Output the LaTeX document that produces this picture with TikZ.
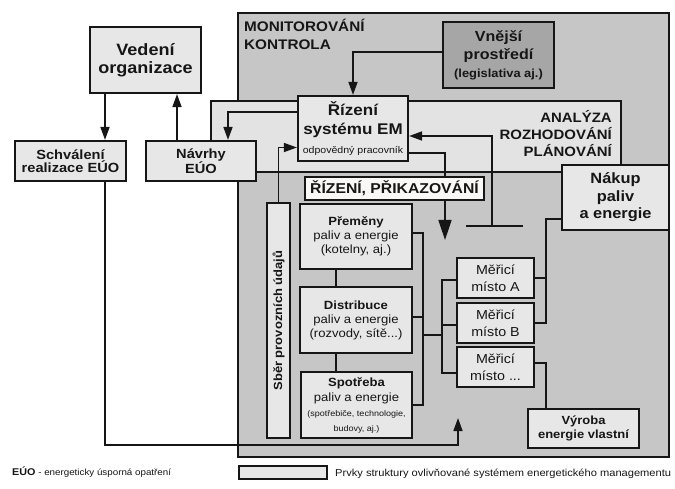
\documentclass[tikz,border=0pt]{standalone}
\usepackage{fontspec}
\setmainfont[FakeStretch=1.1]{Liberation Sans}
\usetikzlibrary{arrows.meta}
\definecolor{outergray}{RGB}{198,198,198}
\definecolor{midgray}{RGB}{227,227,227}
\definecolor{boxgray}{RGB}{231,231,231}
\definecolor{darkbox}{RGB}{166,166,166}
\definecolor{labelwhite}{RGB}{250,247,245}
\definecolor{ink}{RGB}{22,22,22}
\newcommand\myfs[2]{\fontsize{#1}{#2}\selectfont}
\pgfdeclarelayer{bg}
\pgfdeclarelayer{wires}
\pgfsetlayers{bg,wires,main}
\begin{document}
\begin{tikzpicture}[x=1pt,y=-1pt,
  box/.style={draw=ink, line width=2.2pt, fill=boxgray, inner sep=0pt, align=center, text=ink},
  region/.style={draw=ink, line width=2.6pt, inner sep=0pt},
  conn/.style={draw=ink, line width=1.6pt},
  arr/.style={conn, -{Triangle[length=13pt,width=9pt]}},
  bigarr/.style={conn, -{Triangle[length=20pt,width=13pt]}},
  lbl/.style={inner sep=0pt, text=ink, font=\bfseries\myfs{13.9}{17}},
  lblb/.style={inner sep=0pt, text=ink, font=\bfseries\myfs{13.6}{17}}]
\useasboundingbox (0,0) rectangle (675,489);
\begin{pgfonlayer}{bg}
  \fill[white] (0,0) rectangle (675,489);
  \node[region, fill=outergray, minimum width=431pt, minimum height=444pt] (mon) at (453.5,235) {};
  \node[region, fill=midgray, minimum width=410pt, minimum height=71pt] (ana) at (416,136.5) {};
\end{pgfonlayer}

% region labels
\node[lbl, anchor=base west] (m1) at (244,32) {MONITOROVÁNÍ};
\node[lbl, anchor=base west] (m2) at (244,50) {KONTROLA};
\node[lblb, anchor=base east] (a1) at (612,123) {ANALÝZA};
\node[lblb, anchor=base east] (a2) at (612,140) {ROZHODOVÁNÍ};
\node[lblb, anchor=base east] (a3) at (612,157) {PLÁNOVÁNÍ};

% boxes
\node[box, minimum width=111pt, minimum height=66pt, font=\bfseries\myfs{16.4}{18.4}] (ved) at (145.5,60) {Vedení\\organizace};
\node[box, minimum width=111pt, minimum height=40pt, font=\bfseries\myfs{13.3}{13.5}] (sch) at (70.5,161) {Schválení\\realizace EÚO};
\node[box, minimum width=110pt, minimum height=40pt, font=\bfseries\myfs{13.3}{13.5}] (nav) at (201,161) {Návrhy\\EÚO};
\node[box, fill=darkbox, minimum width=111pt, minimum height=66pt, font=\bfseries\myfs{14.6}{18}] (vne) at (498.5,55) {Vnější\\prostředí\\\myfs{11.7}{15}(legislativa aj.)};
\node[box, minimum width=110pt, minimum height=65pt, font=\bfseries\myfs{15.5}{19}] (riz) at (353,128.5) {Řízení\\systému EM\\\mdseries\myfs{9.6}{12}odpovědný pracovník};
\node[box, fill=labelwhite, line width=2pt, minimum width=179pt, minimum height=23pt, font=\bfseries\myfs{14.3}{16}] (rp) at (394.5,188.5) {ŘÍZENÍ, PŘIKAZOVÁNÍ};
\node[box, minimum width=107pt, minimum height=65pt, font=\bfseries\myfs{14.9}{17.5}] (nak) at (615.5,197.5) {Nákup\\paliv\\a energie};
\node[box, rotate=90, minimum width=235pt, minimum height=23pt, font=\bfseries\myfs{11.8}{14}] (sber) at (278.5,320.5) {Sběr provozních údajů};
\node[box, minimum width=112pt, minimum height=65pt, font=\myfs{11.9}{14}] (pre) at (356,236.5) {\textbf{Přeměny}\\paliv a energie\\(kotelny, aj.)};
\node[box, minimum width=112pt, minimum height=66pt, font=\myfs{11.9}{14}] (dis) at (356,320) {\textbf{Distribuce}\\paliv a energie\\(rozvody, sítě...)};
\node[box, minimum width=111pt, minimum height=66pt, font=\myfs{11.9}{15}] (spo) at (356.5,405) {\textbf{Spotřeba}\\paliv a energie\\\myfs{8.2}{14.5}(spotřebiče, technologie,\\\myfs{8.2}{14.5}budovy, aj.)};
\node[box, minimum width=77pt, minimum height=40pt, font=\myfs{13}{17}] (ma) at (495.5,278) {Měřicí\\místo A};
\node[box, minimum width=77pt, minimum height=40pt, font=\myfs{13}{17}] (mb) at (495.5,323) {Měřicí\\místo B};
\node[box, minimum width=77pt, minimum height=40pt, font=\myfs{13}{17}] (mc) at (495.5,367) {Měřicí\\místo ...};
\node[box, minimum width=111pt, minimum height=39pt, font=\bfseries\myfs{11.8}{14}] (vyr) at (583.5,428.5) {Výroba\\energie vlastní};

% legend
\node[anchor=base west, inner sep=0pt, text=ink, font=\myfs{8.9}{11}] (leg1) at (12,475) {{\bfseries\myfs{9.8}{11}EÚO} - energeticky úsporná opatření};
\node[box, line width=1.6pt, minimum width=88pt, minimum height=13pt] (leg) at (283,472.5) {};
\node[anchor=base west, inner sep=0pt, text=ink, font=\myfs{10.1}{12}] (leg2) at (335,476) {Prvky struktury ovlivňované systémem energetického managementu};

% helper coordinates
\coordinate (x105) at (105,0);
\coordinate (x177) at (177,0);
\coordinate (x228) at (228,0);
\coordinate (x336) at (336,0);
\coordinate (x423) at (423,0);
\coordinate (x442) at (442,0);
\coordinate (x546) at (546,0);
\coordinate (y325) at (0,325);
\coordinate (y335) at (0,335);
\coordinate (y373) at (0,373);
\coordinate (y317) at (0,317);
\coordinate (fbc) at (458,445);
\coordinate (fbtip) at (458,418);
\coordinate (rtip) at (445,240);
\coordinate (tbase) at (492,226);
\coordinate (tl) at (466,226);
\coordinate (tr) at (523,226);

\begin{pgfonlayer}{wires}
  \draw[arr] (ved.south -| x105) -- (sch.north -| x105);
  \draw[arr] (nav.north -| x177) -- (ved.south -| x177);
  \draw[arr] (sch.south -| x105) |- (fbc) -- (fbtip);
  \draw[arr] ([yshift=3pt]vne.west) -| (riz.north);
  \draw[arr] ([yshift=16.5pt]riz.west) -| (nav.north -| x228);
  \draw[arr] (sber.east) |- ([yshift=-19pt]riz.west);
  \draw[bigarr] ([yshift=-24.5pt]riz.east) -| (rtip);
  \draw[arr] (tbase) |- ([yshift=-7.5pt]riz.east);
  \draw[conn] (tl) -- (tr);
  \draw[conn] ([yshift=-21.5pt]nak.west) -| (x546 |- mb.east) -- (mb.east);
  \draw[conn] (ma.east) -- (ma.east -| x546);
  \draw[conn] ([yshift=4pt]mc.east) -| (vyr.north -| x546);
  \draw[conn] ([yshift=3.5pt]pre.east) -| (x423 |- spo.east) -- (spo.east);
  \draw[conn] (x423 |- y317) -- (dis.east |- y317);
  \draw[conn] (x423 |- y335) -- (x442 |- y335);
  \draw[conn] ([yshift=-2pt]ma.west) -| (x442 |- y373) -- (mc.west |- y373);
  \draw[conn] (mb.west |- y325) -- (x442 |- y325);
  \draw[conn] (pre.south -| x336) -- (dis.north -| x336);
  \draw[conn] (dis.south -| x336) -- (spo.north -| x336);
\end{pgfonlayer}
\end{tikzpicture}
\end{document}
